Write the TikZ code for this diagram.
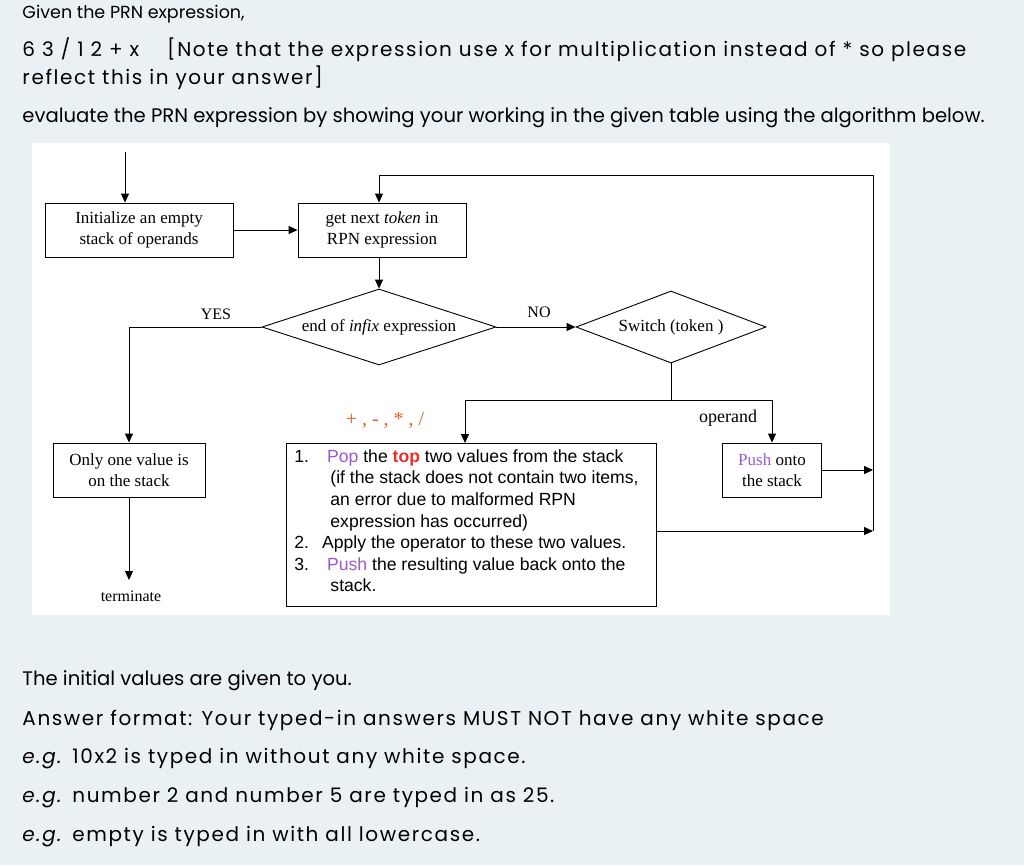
\documentclass[tikz,border=0pt]{standalone}
\usepackage{fontspec}
\setmainfont{Poppins}
\newfontfamily\pwide{Poppins}[LetterSpace=8]
\newfontfamily\dser{Liberation Serif}
\newfontfamily\dsan{Liberation Sans}
\usetikzlibrary{shapes.geometric,arrows.meta}
\definecolor{bgc}{HTML}{EAF1F5}
\definecolor{pur}{HTML}{9B59C9}
\definecolor{rd}{HTML}{E8312A}
\definecolor{og}{HTML}{E0602A}
\begin{document}
\begin{tikzpicture}[x=1pt,y=-1pt,
 line width=0.9pt,
 box/.style={draw,fill=white,inner sep=0pt,font=\dser\fontsize{17}{21}\selectfont,align=center},
 dia/.style={draw,diamond,aspect=2.8,inner sep=0pt,font=\dser\fontsize{17}{20}\selectfont},
 arr/.style={-{Triangle[length=9pt,width=8pt]}},
 txt/.style={anchor=west,inner sep=0pt,font=\fontsize{19.6}{22}\selectfont},
 wtxt/.style={anchor=west,inner sep=0pt,font=\pwide\fontsize{20}{22}\selectfont}]
\fill[bgc] (0,0) rectangle (1024,865);
\fill[white] (32,143) rectangle (890,615);
\node[anchor=west,inner sep=0pt,font=\fontsize{17.5}{20}\selectfont] (t1) at (22,14) {Given the PRN expression,};
\node[wtxt] (t2) at (22,50) {6 3 / 1 2 + x\hspace{28pt}[Note that the expression use x for multiplication instead of * so please};
\node[wtxt] (t3) at (22,78) {reflect this in your answer]};
\node[txt] (t4) at (22,118) {evaluate the PRN expression by showing your working in the given table using the algorithm below.};
\node[txt] (b1) at (22,681) {The initial values are given to you.};
\node[wtxt] (b2) at (22,720) {Answer format: Your typed-in answers MUST NOT have any white space};
\node[wtxt] (b3) at (22,759) {\emph{e.g.} 10x2 is typed in without any white space.};
\node[wtxt] (b4) at (22,798) {\emph{e.g.} number 2 and number 5 are typed in as 25.};
\node[wtxt] (b5) at (22,837) {\emph{e.g.} empty is typed in with all lowercase.};
% diagram
\node[box,minimum width=188pt,minimum height=54pt] (init) at (139,230) {Initialize an empty\\stack of operands};
\node[box,minimum width=168pt,minimum height=54pt] (get) at (382,230) {get next \emph{token} in\\RPN expression};
\node[dia,minimum width=234pt,minimum height=76pt] (end) at (379,327) {end of \emph{infix} expression};
\node[dia,minimum width=190pt,minimum height=72pt] (sw) at (671,327) {Switch (token )};
\node[box,minimum width=152pt,minimum height=54pt] (one) at (129,470) {Only one value is\\on the stack};
\node[box,minimum width=99pt,minimum height=54pt] (push) at (772,470) {\textcolor{pur}{Push} onto\\the stack};
\node[draw,fill=white,minimum width=370pt,minimum height=163pt,inner sep=0pt] (big) at (471,524.5) {};
\node[anchor=north west,inner sep=0pt,font=\dsan\fontsize{17.6}{21.6}\selectfont,align=left] (bt) at (294,449) {%
1.\hspace{18pt}\textcolor{pur}{Pop} the \textbf{\textcolor{rd}{top}} two values from the stack\\
\hspace{36pt}(if the stack does not contain two items,\\
\hspace{36pt}an error due to malformed RPN\\
\hspace{36pt}expression has occurred)\\
2.\hspace{13pt}Apply the operator to these two values.\\
3.\hspace{18pt}\textcolor{pur}{Push} the resulting value back onto the\\
\hspace{36pt}stack.};
\node[font=\dser\fontsize{16}{18}\selectfont] (term) at (131,596) {terminate};
\node[font=\dser\fontsize{16}{18}\selectfont] (yes) at (216,314) {YES};
\node[font=\dser\fontsize{16}{18}\selectfont] (no) at (539,312) {NO};
\node[font=\dser\fontsize{18}{20}\selectfont] (opd) at (728,418) {operand};
\node[font=\dser\fontsize{20}{20}\selectfont,text=og] (ops) at (385,420) {+ , - , * , /};
\coordinate (s0) at (125,152);
\coordinate (l1) at (379,175);
\coordinate (l2) at (873,175);
\coordinate (tm) at (129,580);
\coordinate (j) at (671,400);
\draw[arr] (s0) -- (s0|-init.north);
\draw[arr] (init) -- (get);
\draw[arr] (379,257) -- (end.north);
\draw[arr] (end) -- (sw);
\draw[arr] (end.west) -| (one.north);
\draw[arr] (one.south) -- (tm);
\draw (sw.south) -- (j);
\draw[arr] (465,400) -- (465,443);
\draw[arr] (465,400) -- (772,400) -- (push.north);
\draw[arr] (push.east) -- (873,470);
\draw[arr] (big.east|-0,531) -- (873,531);
\draw[arr] (873,531) -- (l2) -- (l1) -- (l1|-get.north);
\end{tikzpicture}
\end{document}
